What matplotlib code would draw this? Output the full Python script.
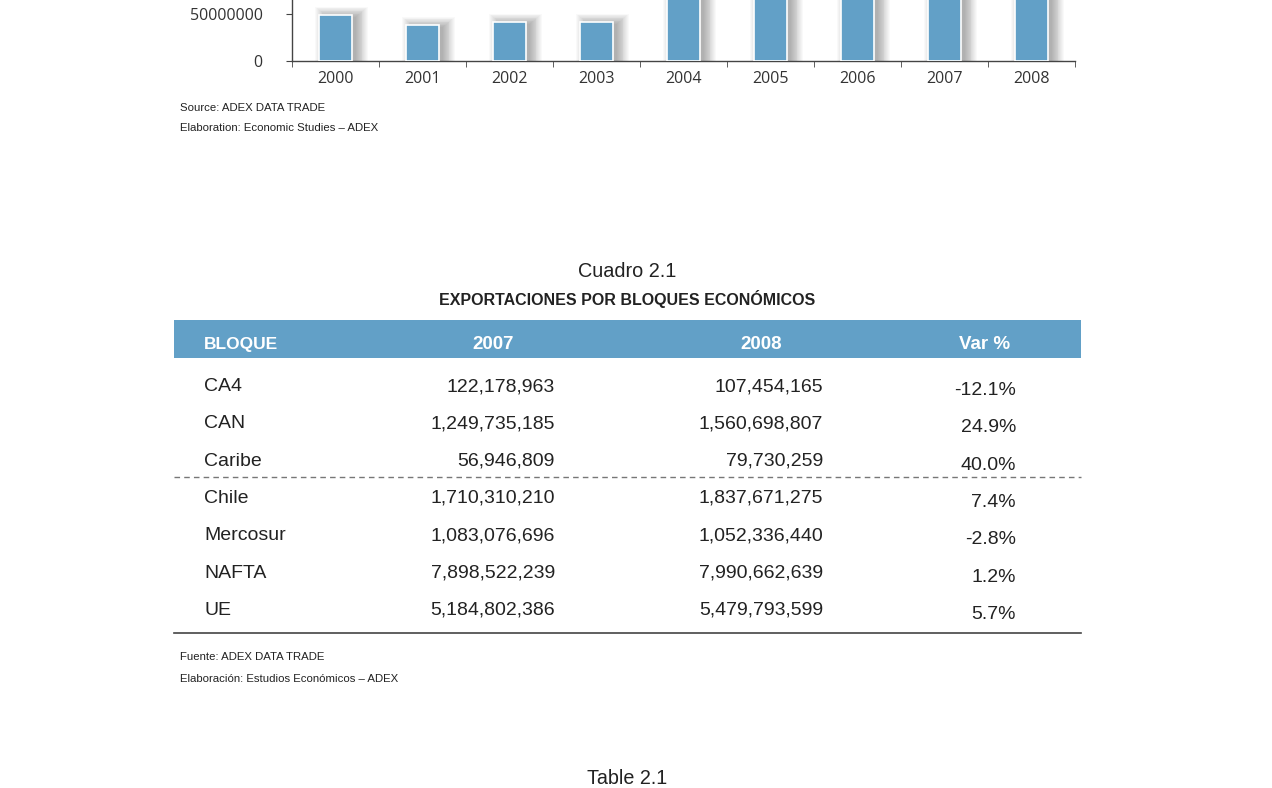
import matplotlib.pyplot as plt
from matplotlib.patches import Rectangle
from matplotlib.ticker import FixedLocator, NullFormatter

# exportaciones anuales (parte superior del grafico, recortada)
years = ['2000', '2001', '2002', '2003', '2004', '2005', '2006', '2007', '2008']
exports = [49300000, 38300000, 41800000, 41800000, 85000000,
           110000000, 128000000, 150000000, 162000000]

# Cuadro 2.1
bloques = ['CA4', 'CAN', 'Caribe', 'Chile', 'Mercosur', 'NAFTA', 'UE']
val_2007 = [122178963, 1249735185, 56946809, 1710310210,
            1083076696, 7898522239, 5184802386]
val_2008 = [107454165, 1560698807, 79730259, 1837671275,
            1052336440, 7990662639, 5479793599]
var_pct = [-12.1, 24.9, 40.0, 7.4, -2.8, 1.2, 5.7]
header = ['BLOQUE', '2007', '2008', 'Var %']

W, H = 1272, 788
FONT = ['Liberation Sans', 'DejaVu Sans']
BLUE = '#62a0c7'
TXT = '#222222'

fig = plt.figure(figsize=(W / 100, H / 100), dpi=100, facecolor='w')

# capa de pagina en pixeles
page = fig.add_axes([0, 0, 1, 1])
page.set_xlim(0, W)
page.set_ylim(H, 0)
page.axis('off')

# --- grafico de barras ---
ymax = 200000000
ax = fig.add_axes([292 / W, 1 - 61 / H, (1075 - 292) / W, 188 / H])
ax.set_facecolor('none')
x = list(range(len(years)))
bw = 0.38
# sombra difusa (capas semitransparentes)
for k in range(14):
    ax.bar([v + 0.07 for v in x], [e - 2000000 + 800000 * k for e in exports],
           width=bw - 0.04 + 0.02 * k, color='#000000', alpha=0.022,
           linewidth=0, zorder=1)
ax.bar(x, exports, width=bw, color=BLUE, edgecolor='white', linewidth=1.2, zorder=3)
ax.set_xlim(-0.5, len(years) - 0.5)
ax.set_ylim(0, ymax)
ax.set_xticks(x)
ax.set_xticklabels(years, fontfamily='Open Sans', fontsize=11.5, color='#333333')
ax.xaxis.set_minor_locator(FixedLocator([v + 0.5 for v in range(-1, len(years))]))
ax.xaxis.set_minor_formatter(NullFormatter())
ax.tick_params(axis='x', which='major', length=0, pad=7)
ax.tick_params(axis='x', which='minor', length=4, color='#444444', direction='out')
ax.set_yticks([0, 50000000])
ax.set_yticklabels(['0', '50000000'], fontfamily='Open Sans', fontsize=11.5,
                   color='#333333')
ax.tick_params(axis='y', length=4, color='#444444', pad=17)
for s in ['top', 'right']:
    ax.spines[s].set_visible(False)
for s in ['left', 'bottom']:
    ax.spines[s].set_color('#444444')
    ax.spines[s].set_linewidth(1.0)

page.text(180, 111, 'Source: ADEX DATA TRADE', fontfamily=FONT, fontsize=8.2,
          color=TXT, va='baseline')
page.text(180, 131, 'Elaboration: Economic Studies \u2013 ADEX', fontfamily=FONT,
          fontsize=8.2, color=TXT, va='baseline')

# --- cuadro ---
page.text(627, 277, 'Cuadro 2.1', fontfamily=FONT, fontsize=14.3, color=TXT,
          ha='center', va='baseline')
page.text(627, 305, 'EXPORTACIONES POR BLOQUES ECONÓMICOS', fontfamily=FONT,
          fontsize=11.5, fontweight='bold', color=TXT, ha='center', va='baseline')

page.add_patch(Rectangle((174, 320), 1081 - 174, 38, color=BLUE, linewidth=0))
page.text(204, 349, header[0], fontfamily=FONT, fontsize=12.5, fontweight='bold',
          color='white', va='baseline')
page.text(493, 349, header[1], fontfamily=FONT, fontsize=13.5, fontweight='bold',
          color='white', ha='center', va='baseline')
page.text(761, 349, header[2], fontfamily=FONT, fontsize=13.5, fontweight='bold',
          color='white', ha='center', va='baseline')
page.text(985, 349, header[3], fontfamily=FONT, fontsize=13.5, fontweight='bold',
          color='white', ha='center', va='baseline')

row_y0, row_h = 391, 37.3
for i, b in enumerate(bloques):
    yb = row_y0 + i * row_h
    page.text(204, yb, b, fontfamily=FONT, fontsize=14, color=TXT, va='baseline')
    page.text(555, yb, f'{val_2007[i]:,}', fontfamily=FONT, fontsize=14,
              color=TXT, ha='right', va='baseline')
    page.text(823, yb, f'{val_2008[i]:,}', fontfamily=FONT, fontsize=14,
              color=TXT, ha='right', va='baseline')
    page.text(1016, yb + 4, f'{var_pct[i]:.1f}%', fontfamily=FONT, fontsize=14,
              color=TXT, ha='right', va='baseline')

page.plot([174, 1081], [477, 477], color='#777777', linewidth=1.0,
          linestyle=(0, (4, 3)))
page.plot([174, 1081], [633, 633], color='#444444', linewidth=1.2)

page.text(180, 660, 'Fuente: ADEX DATA TRADE', fontfamily=FONT, fontsize=8.2,
          color=TXT, va='baseline')
page.text(180, 682, 'Elaboración: Estudios Económicos \u2013 ADEX', fontfamily=FONT,
          fontsize=8.2, color=TXT, va='baseline')

page.text(627, 784, 'Table 2.1', fontfamily=FONT, fontsize=14.2, color=TXT,
          ha='center', va='baseline')

fig.savefig('out.png', dpi=100, facecolor='w')
